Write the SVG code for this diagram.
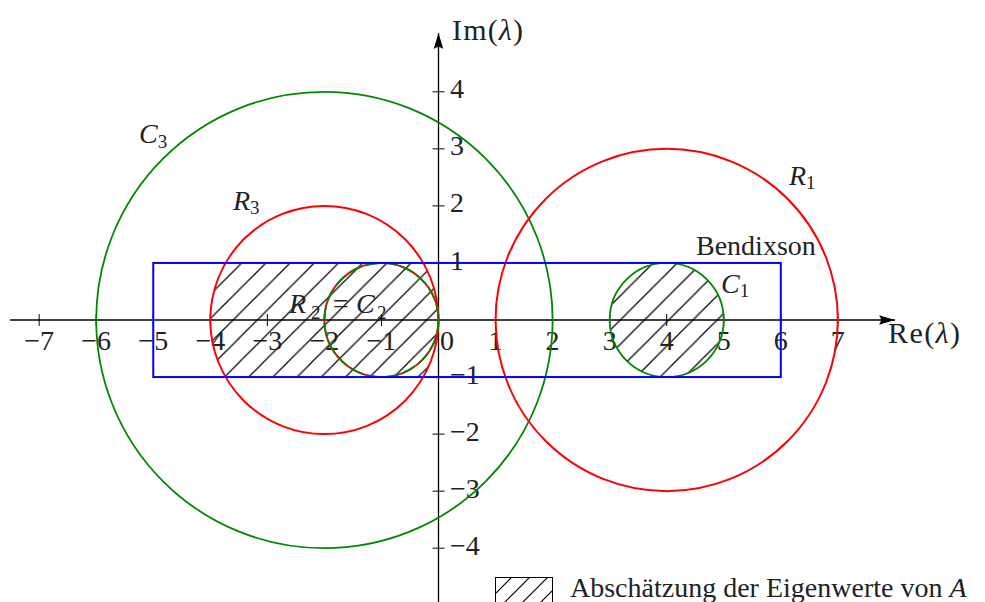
<svg xmlns="http://www.w3.org/2000/svg" width="985" height="602" viewBox="0 0 985 602">
<style>
text{font-family:"Liberation Serif","Times New Roman",serif;font-size:28px;fill:#222}
.it{font-style:italic}
.sub{font-size:19px;font-style:normal}
.xl{text-anchor:middle}
.axl{font-size:30px}
.red{fill:none;stroke:#f00;stroke-width:2}
.grn{fill:none;stroke:#080;stroke-width:1.8}
.blu{fill:none;stroke:#00f;stroke-width:2}
.ax{stroke:#000;stroke-width:1.3;fill:none}
.tk{stroke:#000;stroke-width:1}
</style>
<defs>
<pattern id="hatch" patternUnits="userSpaceOnUse" x="20.7" y="0" width="24.2" height="24.2">
<path d="M-2,2 L2,-2 M0,24.2 L24.2,0 M22.2,26.2 L26.2,22.2" stroke="#000" stroke-width="1.2"/>
</pattern>
<pattern id="hatch2" patternUnits="userSpaceOnUse" x="495" y="0" width="18" height="18">
<path d="M-2,2 L2,-2 M0,18 L18,0 M16,20 L20,16" stroke="#000" stroke-width="1.2"/>
</pattern>
<clipPath id="rectClip"><rect x="153.25" y="262.95" width="627.55" height="114.1"/></clipPath>
<marker id="arr" markerUnits="userSpaceOnUse" markerWidth="17" markerHeight="12" refX="16" refY="6" orient="auto">
<path d="M0,1.2 L16,6 L0,10.8 Q4,6 0,1.2 Z" fill="#000"/>
</marker>
</defs>

<g id="hatched-regions">
<g clip-path="url(#rectClip)"><circle cx="324.4" cy="320" r="114.1" fill="url(#hatch)"/></g>
<circle cx="666.7" cy="320" r="57.05" fill="url(#hatch)"/>
</g>

<g id="axes">
<line class="ax" x1="10" y1="320" x2="895" y2="320" marker-end="url(#arr)"/>
<line class="ax" x1="438.5" y1="602" x2="438.5" y2="33" marker-end="url(#arr)"/>
<g class="tk">
<line x1="39.15" y1="314" x2="39.15" y2="326"/>
<line x1="96.2" y1="314" x2="96.2" y2="326"/>
<line x1="153.25" y1="314" x2="153.25" y2="326"/>
<line x1="210.3" y1="314" x2="210.3" y2="326"/>
<line x1="267.35" y1="314" x2="267.35" y2="326"/>
<line x1="324.4" y1="314" x2="324.4" y2="326"/>
<line x1="381.45" y1="314" x2="381.45" y2="326"/>
<line x1="495.55" y1="314" x2="495.55" y2="326"/>
<line x1="552.6" y1="314" x2="552.6" y2="326"/>
<line x1="609.65" y1="314" x2="609.65" y2="326"/>
<line x1="666.7" y1="314" x2="666.7" y2="326"/>
<line x1="723.75" y1="314" x2="723.75" y2="326"/>
<line x1="780.8" y1="314" x2="780.8" y2="326"/>
<line x1="837.85" y1="314" x2="837.85" y2="326"/>
<line x1="432.5" y1="91.8" x2="444.5" y2="91.8"/>
<line x1="432.5" y1="148.85" x2="444.5" y2="148.85"/>
<line x1="432.5" y1="205.9" x2="444.5" y2="205.9"/>
<line x1="432.5" y1="262.95" x2="444.5" y2="262.95"/>
<line x1="432.5" y1="377.05" x2="444.5" y2="377.05"/>
<line x1="432.5" y1="434.1" x2="444.5" y2="434.1"/>
<line x1="432.5" y1="491.15" x2="444.5" y2="491.15"/>
<line x1="432.5" y1="548.2" x2="444.5" y2="548.2"/>
</g>
<g id="tick-labels">
<text class="xl" x="39.15" y="350">−7</text>
<text class="xl" x="96.2" y="350">−6</text>
<text class="xl" x="153.25" y="350">−5</text>
<text class="xl" x="210.3" y="350">−4</text>
<text class="xl" x="267.35" y="350">−3</text>
<text class="xl" x="324.4" y="350">−2</text>
<text class="xl" x="381.45" y="350">−1</text>
<text class="xl" x="447" y="350">0</text>
<text class="xl" x="495.55" y="350">1</text>
<text class="xl" x="552.6" y="350">2</text>
<text class="xl" x="609.65" y="350">3</text>
<text class="xl" x="666.7" y="350">4</text>
<text class="xl" x="723.75" y="350">5</text>
<text class="xl" x="780.8" y="350">6</text>
<text class="xl" x="837.85" y="350">7</text>
<text x="450" y="98">4</text>
<text x="450" y="155">3</text>
<text x="450" y="212">2</text>
<text x="450" y="270">1</text>
<text x="450" y="384">−1</text>
<text x="450" y="441">−2</text>
<text x="450" y="498">−3</text>
<text x="450" y="555">−4</text>
</g>
<text class="axl" x="888" y="343" textLength="72">Re(<tspan class="it">λ</tspan>)</text>
<text class="axl" x="452" y="40" textLength="71">Im(<tspan class="it">λ</tspan>)</text>
</g>

<g id="C3"><circle class="grn" cx="324.4" cy="320" r="228.2"/><text class="it" x="139" y="143">C<tspan class="sub" dy="5">3</tspan></text></g>
<g id="R3"><circle class="red" cx="324.4" cy="320" r="114.1"/><text class="it" x="233" y="210">R<tspan class="sub" dy="4">3</tspan></text></g>
<g id="R2C2"><circle class="red" cx="381.45" cy="320" r="57.05"/><circle class="grn" cx="381.45" cy="320" r="57.05" stroke-dasharray="14 4"/>
<text class="it" x="289" y="313">R</text><text class="sub" x="311" y="319">2</text><text x="333" y="313">=</text><text class="it" x="356" y="313">C</text><text class="sub" x="377" y="319">2</text></g>
<g id="R1"><circle class="red" cx="666.7" cy="320" r="171.15"/><text class="it" x="789" y="185">R<tspan class="sub" dy="4">1</tspan></text></g>
<g id="C1"><circle class="grn" cx="666.7" cy="320" r="57.05"/><text class="it" x="721" y="293">C<tspan class="sub" dy="4">1</tspan></text></g>
<g id="Bendixson"><rect class="blu" x="153.25" y="262.95" width="627.55" height="114.1"/><text x="696" y="255">Bendixson</text></g>

<g id="legend">
<rect x="495.5" y="577.5" width="57" height="40" fill="url(#hatch2)" stroke="#000" stroke-width="1"/>
<text x="570" y="597">Abschätzung der Eigenwerte von <tspan class="it">A</tspan></text>
</g>
</svg>
